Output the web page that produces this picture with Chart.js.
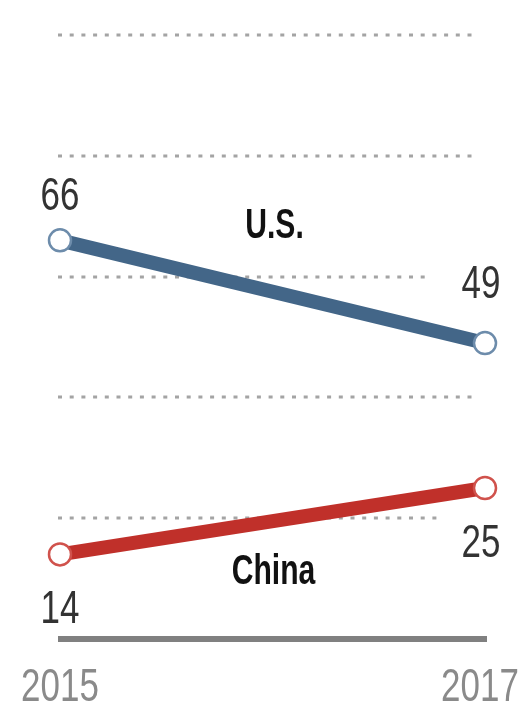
<!DOCTYPE html>
<html>
<head>
<meta charset="utf-8">
<script src="https://cdn.jsdelivr.net/npm/chart.js@4.4.1/dist/chart.umd.min.js"></script>
<style>
  html, body { margin: 0; padding: 0; background: #fff; }
  #wrap { width: 529px; height: 706px; position: relative; }
</style>
</head>
<body>
<div id="wrap"><canvas id="chart"></canvas></div>
<script>
// chart values
const years = ['2015', '2017'];
const usValues = [66, 49];
const chinaValues = [14, 25];
const seriesNames = ['U.S.', 'China'];
const gridTicks = [20, 40, 60, 80, 100];

const FONT = '"Liberation Sans", Arial, sans-serif';
const US_BLUE = '#436688';
const CHINA_RED = '#c0302a';

// narrow type: squeeze the glyphs horizontally around their anchor
function condensedText(ctx, text, x, y, sx) {
  ctx.save();
  ctx.translate(x, y);
  ctx.scale(sx, 1);
  ctx.fillText(text, 0, 0);
  ctx.restore();
}

// dotted gridlines + solid baseline, drawn through the y scale
const gridPlugin = {
  id: 'pewGrid',
  beforeDatasetsDraw(chart) {
    const { ctx, scales: { x, y } } = chart;
    const left = x.getPixelForValue(0) - 2;
    const right = x.getPixelForValue(years.length - 1) - 10;
    // right-hand value labels (last point of each series) push gridlines back
    const lastY = chart.data.datasets.map((ds, i) => {
      const py = y.getPixelForValue(ds.data[ds.data.length - 1]);
      return i === 0 ? py - 55 : py + 52;
    });
    ctx.save();
    ctx.strokeStyle = '#a4a4a4';
    ctx.lineWidth = 3;
    ctx.setLineDash([4, 7.7]);
    gridTicks.forEach((t) => {
      const py = Math.round(y.getPixelForValue(t));
      let end = right;
      lastY.forEach((ly, i) => {
        if (Math.abs(ly - py) < 32) end = right - (i === 0 ? 45 : 35);
      });
      ctx.beginPath();
      ctx.moveTo(left, py);
      ctx.lineTo(end, py);
      ctx.stroke();
    });
    ctx.setLineDash([]);
    ctx.strokeStyle = '#808080';
    ctx.lineWidth = 6;
    const by = y.getPixelForValue(0);
    ctx.beginPath();
    ctx.moveTo(left, by);
    ctx.lineTo(x.getPixelForValue(years.length - 1) + 2, by);
    ctx.stroke();
    ctx.restore();
  },
  afterDatasetsDraw(chart) {
    const { ctx, scales: { x, y } } = chart;
    ctx.save();
    ctx.textAlign = 'center';

    // year labels
    ctx.font = '46px ' + FONT;
    ctx.fillStyle = '#8a8a8a';
    ctx.textBaseline = 'alphabetic';
    years.forEach((yr, i) => {
      condensedText(ctx, yr, x.getPixelForValue(i) - (i ? 5 : 0), y.getPixelForValue(0) + 62, 0.76);
    });

    // value labels: US above points, China below
    ctx.fillStyle = '#333';
    chart.data.datasets.forEach((ds, di) => {
      ds.data.forEach((v, i) => {
        const px = x.getPixelForValue(i) - (i ? 4 : 0);
        const py = y.getPixelForValue(v);
        if (di === 0) {
          ctx.textBaseline = 'alphabetic';
          condensedText(ctx, String(v), px, py - (i ? 45 : 30), 0.76);
        } else {
          ctx.textBaseline = 'top';
          condensedText(ctx, String(v), px, py + 33, 0.76);
        }
      });
    });

    // series names at the middle of the lines
    ctx.font = 'bold 43px ' + FONT;
    ctx.fillStyle = '#111';
    const midX = (x.getPixelForValue(0) + x.getPixelForValue(years.length - 1)) / 2;
    chart.data.datasets.forEach((ds, di) => {
      const midV = (ds.data[0] + ds.data[ds.data.length - 1]) / 2;
      const py = y.getPixelForValue(midV);
      if (di === 0) {
        ctx.textBaseline = 'alphabetic';
        condensedText(ctx, seriesNames[di], midX + 2, py - 54, 0.7);
      } else {
        ctx.textBaseline = 'top';
        condensedText(ctx, seriesNames[di], midX + 1, py + 29, 0.7);
      }
    });
    ctx.restore();
  },
};

new Chart(document.getElementById('chart'), {
  type: 'line',
  data: {
    labels: years,
    datasets: [
      {
        label: seriesNames[0],
        data: usValues,
        borderColor: US_BLUE,
        borderWidth: 14,
        pointRadius: 11,
        pointBorderWidth: 2.5,
        pointBackgroundColor: '#fff',
        pointBorderColor: '#6d8cab',
        clip: false,
      },
      {
        label: seriesNames[1],
        data: chinaValues,
        borderColor: CHINA_RED,
        borderWidth: 14,
        pointRadius: 11,
        pointBorderWidth: 2.5,
        pointBackgroundColor: '#fff',
        pointBorderColor: '#d0524c',
        clip: false,
      },
    ],
  },
  options: {
    responsive: true,
    maintainAspectRatio: false,
    animation: false,
    layout: { padding: { left: 60, right: 44, top: 35, bottom: 67 } },
    scales: {
      x: { display: false, offset: false },
      y: { display: false, min: 0, max: 100 },
    },
    plugins: {
      legend: { display: false },
      tooltip: { enabled: false },
    },
  },
  plugins: [gridPlugin],
});
</script>
</body>
</html>
